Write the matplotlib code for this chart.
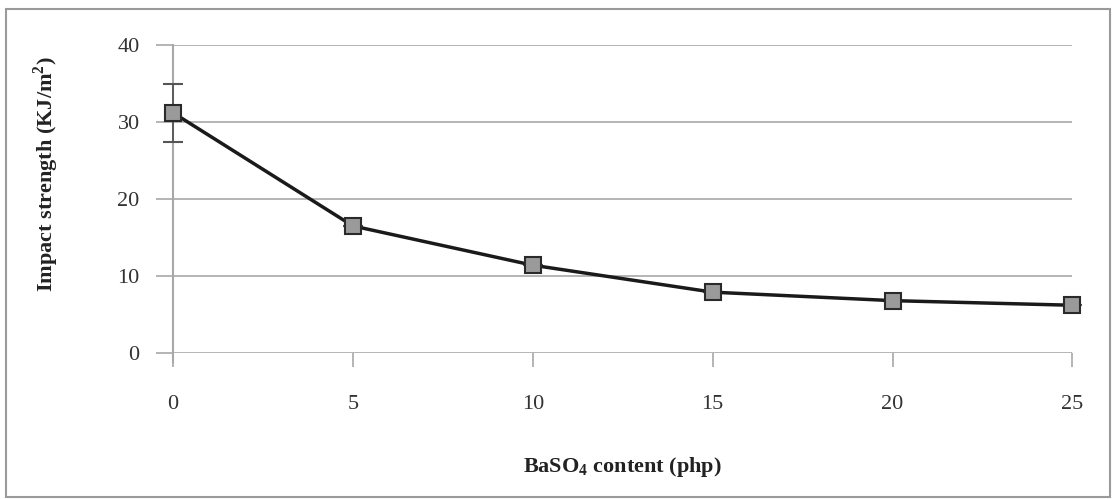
import matplotlib.pyplot as plt
from matplotlib.patches import Rectangle

# BaSO4 loading (php) vs impact strength
baso4_php = [0, 5, 10, 15, 20, 25]
impact_kj = [31.2, 16.5, 11.4, 7.9, 6.8, 6.2]
impact_err = [3.8, 0, 0, 0, 0, 0]
y_ticks = [0, 10, 20, 30, 40]

plt.rcParams['font.family'] = ['Liberation Serif', 'DejaVu Serif']
plt.rcParams['mathtext.fontset'] = 'custom'
plt.rcParams['mathtext.rm'] = 'Liberation Serif'
plt.rcParams['mathtext.bf'] = 'Liberation Serif:bold'
grey = '#a8a8a8'

fig = plt.figure(figsize=(11.12, 4.99), dpi=100)
ax = fig.add_axes([0.1556, 0.2926, 0.8088, 0.6172])

ax.set_xlim(0, 25)
ax.set_ylim(0, 40)

# gridlines and vertical axis line drawn like a spreadsheet chart
for s in ax.spines.values():
    s.set_visible(False)
ax.set_yticks(y_ticks)
ax.set_xticks(baso4_php)
ax.yaxis.grid(True, color=grey, linewidth=1.2)
ax.set_axisbelow(True)
ax.tick_params(axis='y', length=12, width=1.2, color=grey, pad=12, labelsize=16,
               labelcolor='#333333')
ax.tick_params(axis='x', length=10, width=1.2, color=grey, pad=20, labelsize=16,
               labelcolor='#333333')
ax.axvline(0, ymin=-0.03, ymax=1, color=grey, linewidth=1.5, clip_on=False)

ax.errorbar(baso4_php, impact_kj, yerr=impact_err, color='#1a1a1a', linewidth=2.5,
            marker='s', markersize=11, markerfacecolor='#9a9a9a',
            markeredgecolor='#2a2a2a', markeredgewidth=1.5,
            ecolor='#555555', elinewidth=1.3, capsize=7, capthick=1.3,
            clip_on=False, zorder=3)

ax.set_ylabel('Impact strength (KJ/m$^{\\mathbf{2}}$)', fontsize=16,
              fontweight='bold', color='#222222')
ax.yaxis.set_label_coords(-0.125, 0.58)
ax.set_xlabel('BaSO$_{\\mathbf{4}}$ content (php)', fontsize=16,
              fontweight='bold', color='#222222')
ax.xaxis.set_label_coords(0.5, -0.33)

# outer chart frame
fig.patches.append(Rectangle((6 / 1112, 2 / 499), 1104 / 1112, 488 / 499,
                             transform=fig.transFigure, fill=False,
                             edgecolor='#9a9a9a', linewidth=1.5))

fig.savefig('out.png', dpi=100)
